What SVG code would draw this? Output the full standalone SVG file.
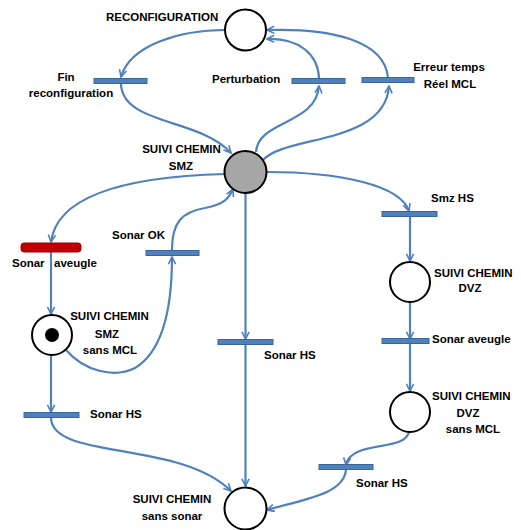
<svg xmlns="http://www.w3.org/2000/svg" width="521" height="530" viewBox="0 0 521 530">
  <style>
    .place { fill: #ffffff; stroke: #000000; stroke-width: 2; }
    .bar { fill: #4F81BD; stroke: #3A659A; stroke-width: 1; }
    .bar-red { fill: #C00000; stroke: #A00000; stroke-width: 1; }
    .arc { fill: none; stroke: #4F81BD; stroke-width: 2.2; marker-end: url(#arrow); }
    .lbl { font-family: "Liberation Sans", Arial, sans-serif; font-weight: bold; font-size: 11.5px; fill: #000000; }
    .mid { text-anchor: middle; }
  </style>
  <defs>
    <marker id="arrow" markerUnits="userSpaceOnUse" viewBox="0 0 10 10" refX="9" refY="5" markerWidth="9" markerHeight="9" orient="auto">
      <path d="M1,1 L9,5 L1,9" fill="none" stroke="#4F81BD" stroke-width="1.8"/>
    </marker>
  </defs>
  <rect width="521" height="530" fill="#ffffff"/>

  <!-- arcs between places and transitions -->
  <g id="connectors">
    <path class="arc" d="M225,30 C180,30 130,45 121,77"/>
    <path class="arc" d="M121,83 C121,125 200,118 231,153"/>
    <path class="arc" d="M256,152 C258,120 316,125 319,86"/>
    <path class="arc" d="M319,78 C318,55 300,38 267,39"/>
    <path class="arc" d="M263,160 C285,135 385,145 389,86"/>
    <path class="arc" d="M388,78 C385,40 330,28 267,30"/>
    <path class="arc" d="M266,172 C340,172 400,185 409,211"/>
    <path class="arc" d="M410,217 L410,261"/>
    <path class="arc" d="M410,302 L410,339"/>
    <path class="arc" d="M410,344 L410,391"/>
    <path class="arc" d="M409,432 C405,452 350,440 346,465"/>
    <path class="arc" d="M346,469 C345,495 300,500 267,510"/>
    <path class="arc" d="M225,174 C150,176 58,188 51,242"/>
    <path class="arc" d="M51,252 L51,314"/>
    <path class="arc" d="M66,350 C85,372 115,378 135,368 C165,350 172,300 172,257"/>
    <path class="arc" d="M172,250 C172,222 182,212 205,208 C225,204 229,198 233,189"/>
    <path class="arc" d="M245.5,193 L245.5,339"/>
    <path class="arc" d="M245.5,345 L245.5,486"/>
    <path class="arc" d="M51,355 L51,412"/>
    <path class="arc" d="M51,418 C52,460 180,440 231,491"/>
  </g>

  <!-- places -->
  <g id="p-reconfiguration">
    <circle class="place" cx="245.5" cy="30" r="20.5"/>
    <text class="lbl" x="106" y="21">RECONFIGURATION</text>
  </g>
  <g id="p-suivi-smz">
    <circle class="place" cx="245.5" cy="172" r="21" fill="#A6A6A6" style="fill:#A6A6A6"/>
    <text class="lbl mid" x="181.5" y="153">SUIVI CHEMIN</text>
    <text class="lbl mid" x="181" y="170">SMZ</text>
  </g>
  <g id="p-suivi-smz-sans-mcl">
    <circle class="place" cx="52" cy="335" r="20"/>
    <circle cx="52" cy="335" r="7" fill="#000000"/>
    <text class="lbl mid" x="109.5" y="320">SUIVI CHEMIN</text>
    <text class="lbl mid" x="107" y="338">SMZ</text>
    <text class="lbl mid" x="110" y="354">sans MCL</text>
  </g>
  <g id="p-suivi-dvz">
    <circle class="place" cx="410" cy="282" r="20"/>
    <text class="lbl" x="434" y="277">SUIVI CHEMIN</text>
    <text class="lbl mid" x="470" y="292">DVZ</text>
  </g>
  <g id="p-suivi-dvz-sans-mcl">
    <circle class="place" cx="410" cy="412" r="20"/>
    <text class="lbl" x="432" y="400">SUIVI CHEMIN</text>
    <text class="lbl mid" x="468" y="417">DVZ</text>
    <text class="lbl mid" x="473" y="433">sans MCL</text>
  </g>
  <g id="p-suivi-sans-sonar">
    <circle class="place" cx="245.5" cy="508.5" r="21"/>
    <text class="lbl mid" x="172" y="503">SUIVI CHEMIN</text>
    <text class="lbl mid" x="172" y="520">sans sonar</text>
  </g>

  <!-- transitions -->
  <g id="t-fin-reconfiguration">
    <rect class="bar" x="94" y="78.5" width="53" height="5"/>
    <text class="lbl mid" x="66" y="81">Fin</text>
    <text class="lbl mid" x="71" y="97">reconfiguration</text>
  </g>
  <g id="t-perturbation">
    <rect class="bar" x="292" y="78.5" width="53" height="5"/>
    <text class="lbl" x="212" y="83">Perturbation</text>
  </g>
  <g id="t-erreur-temps-reel">
    <rect class="bar" x="362" y="77.5" width="52" height="5"/>
    <text class="lbl mid" x="449" y="71">Erreur temps</text>
    <text class="lbl mid" x="450" y="88">Réel MCL</text>
  </g>
  <g id="t-sonar-aveugle-smz">
    <rect class="bar-red" x="21" y="243" width="60" height="9" rx="3"/>
    <text class="lbl" y="267"><tspan x="12">Sonar</tspan><tspan x="54">aveugle</tspan></text>
  </g>
  <g id="t-sonar-ok">
    <rect class="bar" x="146" y="250.5" width="53" height="5"/>
    <text class="lbl" x="112" y="239">Sonar OK</text>
  </g>
  <g id="t-sonar-hs-smz">
    <rect class="bar" x="218" y="339.5" width="55" height="5"/>
    <text class="lbl" x="264" y="359">Sonar HS</text>
  </g>
  <g id="t-smz-hs">
    <rect class="bar" x="382" y="211.5" width="55" height="5"/>
    <text class="lbl" x="431" y="202">Smz HS</text>
  </g>
  <g id="t-sonar-aveugle-dvz">
    <rect class="bar" x="382" y="338.5" width="47" height="5"/>
    <text class="lbl" x="432" y="343">Sonar aveugle</text>
  </g>
  <g id="t-sonar-hs-smz-sans-mcl">
    <rect class="bar" x="24" y="412.5" width="55" height="5"/>
    <text class="lbl" x="90" y="418">Sonar HS</text>
  </g>
  <g id="t-sonar-hs-dvz">
    <rect class="bar" x="319" y="464.5" width="54" height="5"/>
    <text class="lbl" x="356" y="487">Sonar HS</text>
  </g>
</svg>
